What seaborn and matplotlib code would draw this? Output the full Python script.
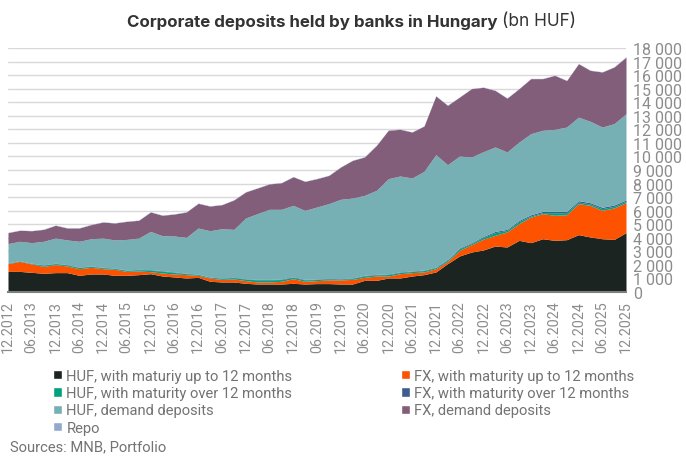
"""Corporate deposits held by banks in Hungary, stacked area chart (bn HUF)."""

import matplotlib.pyplot as plt
import matplotlib.ticker as mticker
import matplotlib.dates as mdates
from matplotlib.patches import Patch
import numpy as np
import pandas as pd
import seaborn as sns

# quarterly readings, 12.2012 .. 12.2025 (bn HUF)
dates = pd.date_range("2012-12-01", "2025-12-01", freq="3MS")

huf_short = [1520, 1520, 1450, 1380, 1430, 1430, 1230, 1330, 1330, 1230, 1230, 1280, 1350,
             1180, 1110, 1030, 1080, 790, 740, 740, 640, 590, 590, 590, 640, 590, 620,
             620, 590, 590, 860, 860, 1030, 1030, 1180, 1280, 1480, 2090, 2660, 2950, 3100,
             3390, 3320, 3810, 3640, 3930, 3810, 3860, 4230, 4060, 3930, 3880, 4380]
fx_short = [570, 740, 620, 510, 590, 490, 490, 490, 390, 440, 290, 270, 150,
            220, 220, 250, 150, 240, 190, 220, 200, 150, 150, 200, 340, 200, 220,
            270, 300, 340, 220, 320, 150, 320, 250, 200, 240, 170, 410, 540, 800,
            790, 1110, 1230, 1890, 1850, 1850, 1840, 2290, 2330, 2090, 2320, 2210]
huf_long = [30, 30, 30, 80, 70, 70, 90, 70, 70, 70, 70, 90, 110,
            130, 110, 70, 70, 40, 70, 90, 110, 150, 150, 130, 90, 100, 80,
            70, 50, 60, 110, 80, 110, 90, 80, 100, 80, 100, 120, 90, 130,
            200, 110, 160, 80, 80, 190, 150, 120, 100, 130, 120, 100]
fx_long = [20, 20, 20, 30, 30, 30, 30, 30, 30, 30, 30, 30, 40,
           40, 40, 30, 30, 30, 30, 30, 30, 40, 40, 40, 40, 40, 40,
           40, 40, 40, 40, 40, 40, 40, 40, 40, 40, 50, 60, 60, 70,
           90, 80, 90, 90, 90, 100, 100, 100, 100, 100, 100, 100]
huf_demand = [1430, 1430, 1520, 1740, 1860, 1820, 1900, 2010, 2160, 2070, 2260, 2310, 2820,
              2580, 2650, 2650, 3390, 3420, 3640, 3540, 4480, 4850, 5170, 5140, 5280, 5090, 5310,
              5520, 5860, 5900, 5900, 6200, 7030, 7080, 6860, 7280, 8290, 6980, 6780, 6320, 6250,
              6230, 5710, 5770, 5980, 5980, 6050, 6220, 6160, 6000, 5920, 6000, 6360]
fx_demand = [810, 810, 880, 880, 940, 880, 980, 1040, 1180, 1250, 1330, 1310, 1430,
             1510, 1620, 1870, 1820, 1820, 1770, 2170, 1920, 1890, 1870, 1960, 2110, 2140, 2090,
             2080, 2380, 2780, 2830, 3320, 3570, 3440, 3390, 3340, 4330, 4380, 4350, 5040, 4750,
             4170, 3970, 3940, 4060, 3810, 3980, 3430, 3940, 3760, 4060, 4180, 4180]
repo = [20] * 53

labels = [
    "HUF, with maturiy up to 12 months",
    "FX, with maturity up to 12 months",
    "HUF, with maturity over 12 months",
    "FX, with maturity over 12 months",
    "HUF, demand deposits",
    "FX, demand deposits",
    "Repo",
]
colors = ["#1b2420", "#fd5200", "#00a27c", "#3c5d8e", "#76b0b4", "#835e7a", "#93a8cf"]

sns.set_style("white")
plt.rcParams["font.family"] = ["Roboto", "DejaVu Sans"]

fig = plt.figure(figsize=(6.86, 4.64), dpi=100)
ax = fig.add_axes([8 / 686, 1 - 293 / 464, 618 / 686, 244 / 464])

series = [huf_short, fx_short, huf_long, fx_long, huf_demand, fx_demand, repo]
ax.stackplot(dates, np.array(series, dtype=float), colors=colors, lw=0)

ax.set_ylim(0, 18000)
ax.set_xlim(dates[0], dates[-1])
ax.yaxis.tick_right()
ax.yaxis.set_major_locator(mticker.MultipleLocator(1000))
ax.yaxis.set_major_formatter(
    mticker.FuncFormatter(lambda v, _: f"{int(v):,}".replace(",", " ")))
ax.grid(axis="y", color="#d9d9d9", lw=1)
ax.set_axisbelow(True)

ticks = pd.date_range("2012-12-01", "2025-12-01", freq="6MS")
ax.set_xticks(ticks)
ax.xaxis.set_major_formatter(mdates.DateFormatter("%m.%Y"))
ax.tick_params(axis="x", labelrotation=90, labelsize=10.3, colors="#8c8c8c", length=0, pad=6)
ax.tick_params(axis="y", labelsize=11.5, colors="#8c8c8c", length=0, pad=5)
for side in ["top", "left", "right"]:
    ax.spines[side].set_visible(False)
ax.spines["bottom"].set_color("#7f7f7f")
ax.spines["bottom"].set_linewidth(1.5)

# legend: HUF items in first column, FX items in second
order = [0, 2, 4, 6, 1, 3, 5]
handles = [Patch(facecolor=colors[i], label=labels[i]) for i in order]
fig.legend(handles=handles, ncol=2, loc="upper left", bbox_to_anchor=(53 / 686, 1 - 370 / 464),
           frameon=False, fontsize=10.6, handlelength=0.6, handleheight=0.6,
           handletextpad=0.3, columnspacing=7.4, labelspacing=0.22, labelcolor="#737373",
           borderpad=0, borderaxespad=0)

# title: bold part, then the unit in regular weight right after it
bold = fig.text(127 / 686, 1 - 22 / 464, "Corporate deposits held by banks in Hungary",
                fontsize=12.2, fontweight="bold", color="#333333", va="center",
                family="Inter")
fig.canvas.draw()
x_end = bold.get_window_extent().x1
fig.text((x_end + 4) / 686, 1 - 22 / 464, "(bn HUF)", fontsize=12.4, color="#333333",
         va="center", family="Inter")
fig.text(10 / 686, 1 - 447 / 464, "Sources: MNB, Portfolio", fontsize=10.6,
         color="#737373", va="center")

fig.savefig("out.png", dpi=100)
